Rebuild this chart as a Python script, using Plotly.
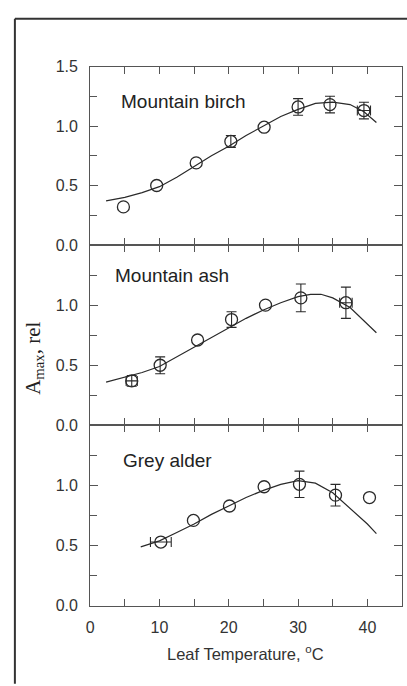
import plotly.graph_objects as go

# ---------------- data ----------------
birch_x = [4.8, 9.6, 15.3, 20.3, 25.1, 30.0, 34.6, 39.5]
birch_y = [0.32, 0.50, 0.69, 0.87, 0.99, 1.16, 1.18, 1.13]
birch_yerr = [0, 0, 0, 0.05, 0, 0.07, 0.07, 0.07]
birch_xerr = [0, 0, 0, 0, 0, 0, 0, 0.95]
birch_curve_x = [2.3, 5, 7.5, 10, 12.5, 15, 17.5, 20, 22.5, 25, 27.5, 30, 32.5, 35, 37.5, 39.5, 41.3]
birch_curve_y = [0.37, 0.40, 0.44, 0.49, 0.57, 0.66, 0.75, 0.83, 0.92, 1.00, 1.08, 1.14, 1.19, 1.20, 1.18, 1.12, 1.03]

ash_x = [6.0, 10.1, 15.5, 20.4, 25.3, 30.4, 36.9]
ash_y = [0.37, 0.50, 0.71, 0.88, 1.00, 1.06, 1.02]
ash_yerr = [0.045, 0.07, 0, 0.065, 0, 0.115, 0.13]
ash_xerr = [0.8, 0, 0, 0, 0, 0, 0.9]
ash_curve_x = [2.3, 5, 7.5, 10, 12.5, 15, 17.5, 20, 22.5, 25, 27.5, 30, 31.8, 33.3, 35, 37.5, 40, 41.3]
ash_curve_y = [0.36, 0.40, 0.44, 0.49, 0.57, 0.65, 0.73, 0.81, 0.89, 0.96, 1.02, 1.07, 1.09, 1.09, 1.06, 0.98, 0.84, 0.77]

alder_x = [10.2, 14.9, 20.1, 25.1, 30.2, 35.4, 40.3]
alder_y = [0.53, 0.71, 0.83, 0.99, 1.01, 0.92, 0.90]
alder_yerr = [0, 0, 0, 0, 0.11, 0.09, 0]
alder_xerr = [1.5, 0, 0, 0, 0, 0, 0]
alder_curve_x = [7.3, 10, 12.5, 15, 17.5, 20, 22.5, 25, 27.5, 30, 32.5, 35, 37.5, 40, 41.3]
alder_curve_y = [0.49, 0.54, 0.61, 0.68, 0.76, 0.83, 0.90, 0.96, 1.01, 1.04, 1.02, 0.94, 0.81, 0.68, 0.60]

species = ["Mountain birch", "Mountain ash", "Grey alder"]
label_pos = [(4.2, 1.21), (3.3, 1.25), (4.4, 1.21)]

x_ticks = [0, 10, 20, 30, 40]
x_minor = [5, 15, 25, 35]
y_ticks = [0, 0.5, 1.0, 1.5]
y_ticktext = ["0.0", "0.5", "1.0", "1.5"]
y_minor = [0.25, 0.75, 1.25]

panels = [
    (birch_x, birch_y, birch_yerr, birch_xerr, birch_curve_x, birch_curve_y),
    (ash_x, ash_y, ash_yerr, ash_xerr, ash_curve_x, ash_curve_y),
    (alder_x, alder_y, alder_yerr, alder_xerr, alder_curve_x, alder_curve_y),
]

# ---------------- layout geometry ----------------
W, H = 407, 686
x_dom = [87 / W, 402 / W]
panel_px = [(60, 243), (243, 428), (428, 613)]

INK = "#2a2a2a"
AX = "#555555"
TICKFONT = dict(family="Liberation Sans, Arial, sans-serif", size=16, color="#333333")

fig = go.Figure()
layout = dict(
    width=W, height=H,
    margin=dict(l=0, r=0, t=0, b=0),
    paper_bgcolor="white", plot_bgcolor="white",
    showlegend=False,
)

for i, (px, py, yerr, xerr, cx, cy) in enumerate(panels):
    n = i + 1
    xa = "x" if n == 1 else f"x{n}"
    ya = "y" if n == 1 else f"y{n}"
    top, bot = panel_px[i]
    ydom = [(H - bot) / H, (H - top) / H]
    bottom_panel = (i == 2)

    fig.add_trace(go.Scatter(x=cx, y=cy, mode="lines", xaxis=xa, yaxis=ya,
                             line=dict(color=INK, width=1.2), hoverinfo="skip"))
    iy = [k for k in range(len(px)) if yerr[k] > 0]
    if iy:
        fig.add_trace(go.Scatter(
            x=[px[k] for k in iy], y=[py[k] for k in iy], mode="markers",
            xaxis=xa, yaxis=ya, marker=dict(size=1, color="rgba(0,0,0,0)"),
            error_y=dict(type="data", array=[yerr[k] for k in iy], color=INK,
                         thickness=1.1, width=5)))
    ix = [k for k in range(len(px)) if xerr[k] > 0]
    if ix:
        fig.add_trace(go.Scatter(
            x=[px[k] for k in ix], y=[py[k] for k in ix], mode="markers",
            xaxis=xa, yaxis=ya, marker=dict(size=1, color="rgba(0,0,0,0)"),
            error_x=dict(type="data", array=[xerr[k] for k in ix], color=INK,
                         thickness=1.1, width=5)))
    fig.add_trace(go.Scatter(x=px, y=py, mode="markers", xaxis=xa, yaxis=ya,
                             marker=dict(symbol="circle-open", size=12,
                                         color=INK, line=dict(width=1.3, color=INK))))

    xkey = "xaxis" if n == 1 else f"xaxis{n}"
    ykey = "yaxis" if n == 1 else f"yaxis{n}"
    layout[xkey] = dict(
        domain=x_dom, anchor=ya, range=[0, 45], showgrid=False, zeroline=False,
        showline=True, linecolor=AX, linewidth=1, mirror="allticks",
        ticks="inside", ticklen=7, tickcolor=AX, tickwidth=1,
        tickvals=x_ticks, ticktext=[str(v) for v in x_ticks],
        showticklabels=bottom_panel, tickfont=TICKFONT, ticklabelstandoff=7,
        minor=dict(ticks="inside", tickvals=x_minor, ticklen=7, tickcolor=AX, tickwidth=1),
    )
    yt = y_ticks if i == 0 else y_ticks[:3]
    ytt = y_ticktext if i == 0 else y_ticktext[:3]
    layout[ykey] = dict(
        domain=ydom, anchor=xa, range=[0, 1.5], showgrid=False, zeroline=False,
        showline=True, linecolor=AX, linewidth=1, mirror="allticks",
        ticks="inside", ticklen=8, tickcolor=AX, tickwidth=1,
        tickvals=yt, ticktext=ytt, tickfont=TICKFONT, ticklabelstandoff=8,
        minor=dict(ticks="inside", tickvals=y_minor, ticklen=7, tickcolor=AX, tickwidth=1),
    )

fig.update_layout(**layout)

annotations = []
for i, name in enumerate(species):
    n = i + 1
    xa = "x" if n == 1 else f"x{n}"
    ya = "y" if n == 1 else f"y{n}"
    annotations.append(dict(
        x=label_pos[i][0], y=label_pos[i][1], xref=xa, yref=ya, text=name,
        showarrow=False, xanchor="left", yanchor="middle",
        font=dict(family="Liberation Sans, Arial, sans-serif", size=19, color="#222222")))

annotations.append(dict(
    x=244 / W, y=1 - 661 / H, xref="paper", yref="paper",
    text="Leaf Temperature, <sup>o</sup>C", showarrow=False,
    xanchor="center", yanchor="middle",
    font=dict(family="Liberation Sans, Arial, sans-serif", size=16.5, color="#333333")))

annotations.append(dict(
    x=30 / W, y=1 - 359 / H, xref="paper", yref="paper",
    text="A<sub>max</sub>, rel", showarrow=False, textangle=-90,
    xanchor="center", yanchor="middle",
    font=dict(family="Liberation Serif, Times New Roman, serif", size=21, color="#222222")))

fig.update_layout(annotations=annotations)

fx = 11 / W
fy = 1 - 11 / H
fig.update_layout(shapes=[
    dict(type="line", xref="paper", yref="paper", x0=fx, y0=-0.01, x1=fx, y1=fy,
         line=dict(color="#333333", width=2)),
    dict(type="line", xref="paper", yref="paper", x0=fx, y0=fy, x1=1.01, y1=fy,
         line=dict(color="#333333", width=2)),
])

fig.write_html("out.html")
